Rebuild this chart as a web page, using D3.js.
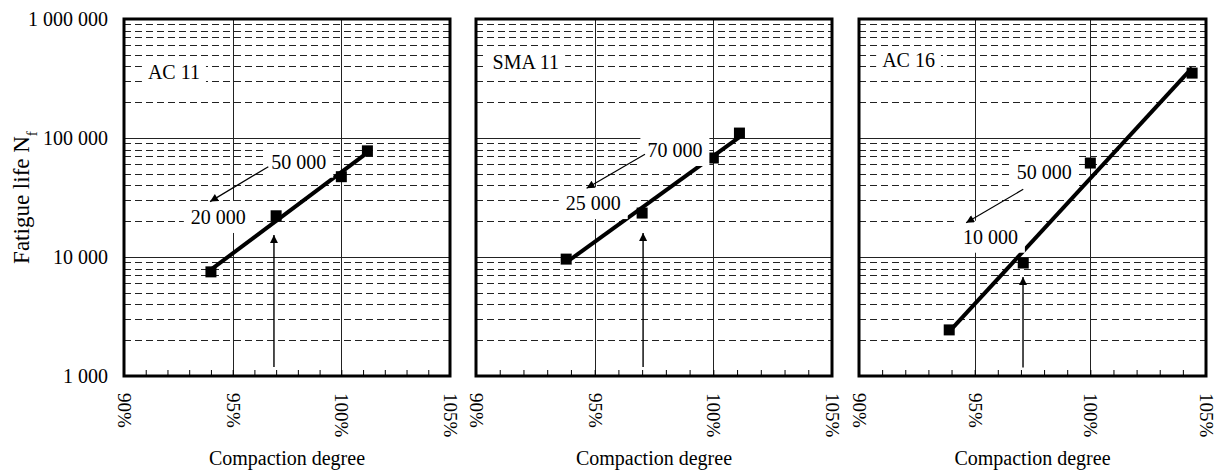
<!DOCTYPE html>
<html>
<head>
<meta charset="utf-8">
<script src="https://cdn.jsdelivr.net/npm/d3@7"></script>
<style>
  body { margin: 0; background: #fff; }
  text { font-family: "Liberation Serif", "Times New Roman", serif; fill: #000; }
</style>
</head>
<body>
<div id="chart"></div>
<script>
// values
var panelNames = ["AC 11", "SMA 11", "AC 16"];
var compaction = [[94.0, 97.0, 100.0, 101.2], [93.8, 97.0, 100.0, 101.1], [93.9, 97.1, 100.0, 104.4]];
var fatigueLife = [[7500, 22200, 47300, 78000], [9600, 23400, 67900, 110000], [2440, 8900, 61600, 351000]];

// annotations, in data units (compaction %, fatigue life)
var nameAt = [[91.1, 359000], [90.7, 436000], [91.0, 452000]];
var upperLabels = ["50 000", "70 000", "50 000"];
var upperAt = [[98.04, 63200], [98.38, 79300], [98.01, 52100]];
var lowerLabels = ["20 000", "25 000", "10 000"];
var lowerAt = [[94.34, 21700], [94.94, 28400], [95.68, 14800]];
var arrowFrom = [[96.64, 57400], [97.12, 73000], [97.10, 37100]];
var arrowTo = [[93.96, 29200], [94.66, 37800], [94.63, 19400]];
var upX = [96.9, 97.04, 97.09];
var upFrom = [1190, 1190, 1180];
var upTo = [15300, 15900, 6800];

var xTicks = [90, 95, 100, 105];
var yTicks = [1000, 10000, 100000, 1000000];

var draw = function() {
  var width = 1216, height = 472;
  var top = 19, bottom = 376;
  var lefts = [124, 476, 859], rights = [450, 832, 1206];

  var svg = d3.select("#chart").append("svg")
    .attr("width", width)
    .attr("height", height);
  svg.append("rect").attr("width", width).attr("height", height).attr("fill", "#fff");

  svg.append("defs").append("marker")
    .attr("id", "head")
    .attr("viewBox", "0 0 10 10")
    .attr("refX", 10).attr("refY", 5)
    .attr("markerWidth", 11).attr("markerHeight", 8)
    .attr("markerUnits", "userSpaceOnUse")
    .attr("orient", "auto")
    .append("path").attr("d", "M0,0L10,5L0,10Z").attr("fill", "#000");

  var fmt = d3.formatLocale({decimal: ".", thousands: " ", grouping: [3], currency: ["", ""]}).format(",d");

  var y = d3.scaleLog().domain([1000, 1000000]).range([bottom, top]);

  // minor grid values
  var minor = [];
  [1000, 10000, 100000].forEach(function(d) {
    for (var k = 2; k <= 9; k++) minor.push(d * k);
  });

  panelNames.forEach(function(name, i) {
    var x = d3.scaleLinear().domain([90, 105]).range([lefts[i], rights[i]]);
    var g = svg.append("g");

    g.selectAll(".minor").data(minor).enter().append("line")
      .attr("x1", x(90)).attr("x2", x(105))
      .attr("y1", function(d) { return Math.round(y(d)) + 0.5; })
      .attr("y2", function(d) { return Math.round(y(d)) + 0.5; })
      .attr("stroke", "#222").attr("stroke-width", 1)
      .attr("stroke-dasharray", "7,4");

    g.selectAll(".hmajor").data(yTicks.slice(1, 3)).enter().append("line")
      .attr("x1", x(90)).attr("x2", x(105))
      .attr("y1", function(d) { return Math.round(y(d)) + 0.5; })
      .attr("y2", function(d) { return Math.round(y(d)) + 0.5; })
      .attr("stroke", "#222").attr("stroke-width", 1);

    g.selectAll(".vmajor").data(xTicks.slice(1, 3)).enter().append("line")
      .attr("x1", function(d) { return Math.round(x(d)) + 0.5; })
      .attr("x2", function(d) { return Math.round(x(d)) + 0.5; })
      .attr("y1", top).attr("y2", bottom)
      .attr("stroke", "#222").attr("stroke-width", 1);

    // exponential trend line (least squares on log10 N)
    var xs = compaction[i], ls = fatigueLife[i].map(Math.log10);
    var mx = d3.mean(xs), ml = d3.mean(ls);
    var sxy = d3.sum(xs, function(v, j) { return (v - mx) * (ls[j] - ml); });
    var sxx = d3.sum(xs, function(v) { return (v - mx) * (v - mx); });
    var b = sxy / sxx, a = ml - b * mx;
    var ext = d3.extent(xs);
    var trend = ext.map(function(v) { return [v, Math.pow(10, a + b * v)]; });
    g.append("path")
      .attr("d", d3.line().x(function(d) { return x(d[0]); }).y(function(d) { return y(d[1]); })(trend))
      .attr("fill", "none").attr("stroke", "#000").attr("stroke-width", 4);

    var pts = xs.map(function(v, j) { return [v, fatigueLife[i][j]]; });
    g.selectAll(".pt").data(pts).enter().append("rect")
      .attr("x", function(d) { return x(d[0]) - 5.5; })
      .attr("y", function(d) { return y(d[1]) - 5.5; })
      .attr("width", 11).attr("height", 11)
      .attr("fill", "#000");

    // labels with white boxes
    function boxed(txt, at, anchor, padX, boxH) {
      var t = g.append("text")
        .attr("x", x(at[0])).attr("y", y(at[1]))
        .attr("dy", "0.35em")
        .attr("text-anchor", anchor)
        .style("font-size", "20px")
        .text(txt);
      var w = t.node().getComputedTextLength();
      var x0 = anchor === "middle" ? x(at[0]) - w / 2 : x(at[0]);
      g.insert("rect", function() { return t.node(); })
        .attr("x", x0 - padX).attr("y", y(at[1]) - boxH / 2)
        .attr("width", w + 2 * padX).attr("height", boxH)
        .attr("fill", "#fff");
    }
    boxed(name, nameAt[i], "start", 6, 26);
    boxed(upperLabels[i], upperAt[i], "middle", 7, 32);
    boxed(lowerLabels[i], lowerAt[i], "middle", 7, 32);

    g.append("line")
      .attr("x1", x(arrowFrom[i][0])).attr("y1", y(arrowFrom[i][1]))
      .attr("x2", x(arrowTo[i][0])).attr("y2", y(arrowTo[i][1]))
      .attr("stroke", "#000").attr("stroke-width", 1.2)
      .attr("marker-end", "url(#head)");
    g.append("line")
      .attr("x1", x(upX[i])).attr("y1", y(upFrom[i]))
      .attr("x2", x(upX[i])).attr("y2", y(upTo[i]))
      .attr("stroke", "#000").attr("stroke-width", 1.4)
      .attr("marker-end", "url(#head)");

    // inward minor ticks on the bottom
    g.append("g")
      .attr("transform", "translate(0," + bottom + ")")
      .call(d3.axisBottom(x).tickValues(d3.range(91, 105)).tickSize(-6).tickFormat(""))
      .call(function(s) { s.select(".domain").remove(); s.selectAll("line").attr("stroke", "#000"); });

    var xa = g.append("g")
      .attr("transform", "translate(0," + bottom + ")")
      .call(d3.axisBottom(x).tickValues(xTicks).tickSize(0).tickFormat(function(d) { return d + "%"; }));
    xa.select(".domain").remove();
    xa.selectAll("text")
      .attr("x", 17).attr("y", 0).attr("dy", "0.35em")
      .attr("transform", "rotate(90)")
      .style("text-anchor", "start")
      .style("font-size", "19px")
      .style("font-family", "'Liberation Serif', 'Times New Roman', serif");

    g.append("text")
      .attr("x", (lefts[i] + rights[i]) / 2).attr("y", 465)
      .attr("text-anchor", "middle")
      .style("font-size", "20px")
      .text("Compaction degree");

    g.append("rect")
      .attr("x", x(90)).attr("y", top)
      .attr("width", x(105) - x(90)).attr("height", bottom - top)
      .attr("fill", "none").attr("stroke", "#000").attr("stroke-width", 3);

    if (i === 0) {
      var ya = g.append("g")
        .attr("transform", "translate(" + x(90) + ",0)")
        .call(d3.axisLeft(y).tickValues(yTicks).tickSize(0).tickPadding(16).tickFormat(fmt));
      ya.select(".domain").remove();
      ya.selectAll("text")
        .style("font-size", "20px")
        .style("font-family", "'Liberation Serif', 'Times New Roman', serif");
    }
  });

  var title = svg.append("text")
    .attr("transform", "translate(21," + (top + bottom) / 2 + ") rotate(-90)")
    .attr("dy", "0.35em")
    .attr("text-anchor", "middle")
    .style("font-size", "23px");
  title.append("tspan").text("Fatigue life N");
  title.append("tspan").attr("baseline-shift", "sub").style("font-size", "15px").text("f");
};
draw();
</script>
</body>
</html>
